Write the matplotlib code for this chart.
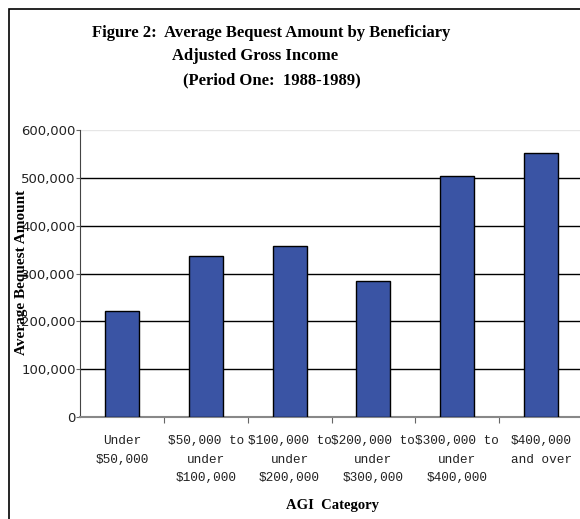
#! /usr/bin/env python3
import matplotlib
matplotlib.use('Agg')
import matplotlib.pyplot as plt
from matplotlib.patches import Rectangle

categories = ['Under\n$50,000', '$50,000 to\nunder\n$100,000', '$100,000 to\nunder\n$200,000',
              '$200,000 to\nunder\n$300,000', '$300,000 to\nunder\n$400,000', '$400,000\nand over']
bequest = [221000, 337000, 357000, 284000, 504000, 552000]
yticks = [0, 100000, 200000, 300000, 400000, 500000, 600000]
title_lines = ['Figure 2:  Average Bequest Amount by Beneficiary',
               'Adjusted Gross Income',
               '(Period One:  1988-1989)']

W, H = 580, 519
fig = plt.figure(figsize=(W / 100, H / 100), dpi=100)
fig.patch.set_facecolor('white')

# plot area runs off the right edge, like the source
ax = fig.add_axes([80 / W, 1 - 417 / H, 503 / W, 287 / H])
x = range(len(categories))
ax.bar(x, bequest, width=0.405, color='#3A54A4', edgecolor='black', linewidth=1.0, zorder=3)
ax.set_xlim(-0.5, len(categories) - 0.5)
ax.set_ylim(0, 600000)

ax.set_yticks(yticks)
ax.set_yticklabels(['{:,}'.format(v) for v in yticks], fontsize=9.5, family='DejaVu Sans', color='#222222')
for v in yticks[1:-1]:
    ax.axhline(v, color='black', linewidth=1.0, zorder=1)
ax.axhline(600000, color='#e6e6e6', linewidth=1.0, zorder=1)

ax.set_xticks([i + 0.5 for i in range(len(categories) - 1)], minor=False)
ax.set_xticklabels([])
ax.set_xticks(list(x), minor=True)
ax.set_xticklabels(categories, minor=True, family='Liberation Mono', fontsize=9.2, color='#222222',
                   linespacing=1.72)
ax.tick_params(axis='x', which='minor', length=0, pad=13)
ax.tick_params(axis='x', which='major', length=4, color='#666666', direction='out')
ax.tick_params(axis='y', length=3, pad=0, color='#666666')

for s in ['top', 'right']:
    ax.spines[s].set_visible(False)
ax.spines['left'].set_color('#444444')
ax.spines['bottom'].set_color('#888888')
ax.spines['bottom'].set_linewidth(1.5)

ys = [33, 56, 80]
xs = [271, 255, 272]
for t, xx, yy in zip(title_lines, xs, ys):
    fig.text(xx / W, 1 - yy / H, t, ha='center', va='center', family='Liberation Serif',
             weight='bold', fontsize=12)

fig.text(332 / W, 1 - 505 / H, 'AGI  Category', ha='center', va='center',
         family='Liberation Serif', weight='bold', fontsize=10.5)
fig.text(22 / W, 1 - 272 / H, 'Average Bequest Amount', ha='center', va='center', rotation=90,
         family='Liberation Serif', weight='bold', fontsize=11)

fig.patches.append(Rectangle((9 / W, -0.1), 1.2, 1 - 9 / H + 0.1, transform=fig.transFigure,
                             fill=False, edgecolor='black', linewidth=1.2, zorder=0))

fig.savefig('out.png', dpi=100)
